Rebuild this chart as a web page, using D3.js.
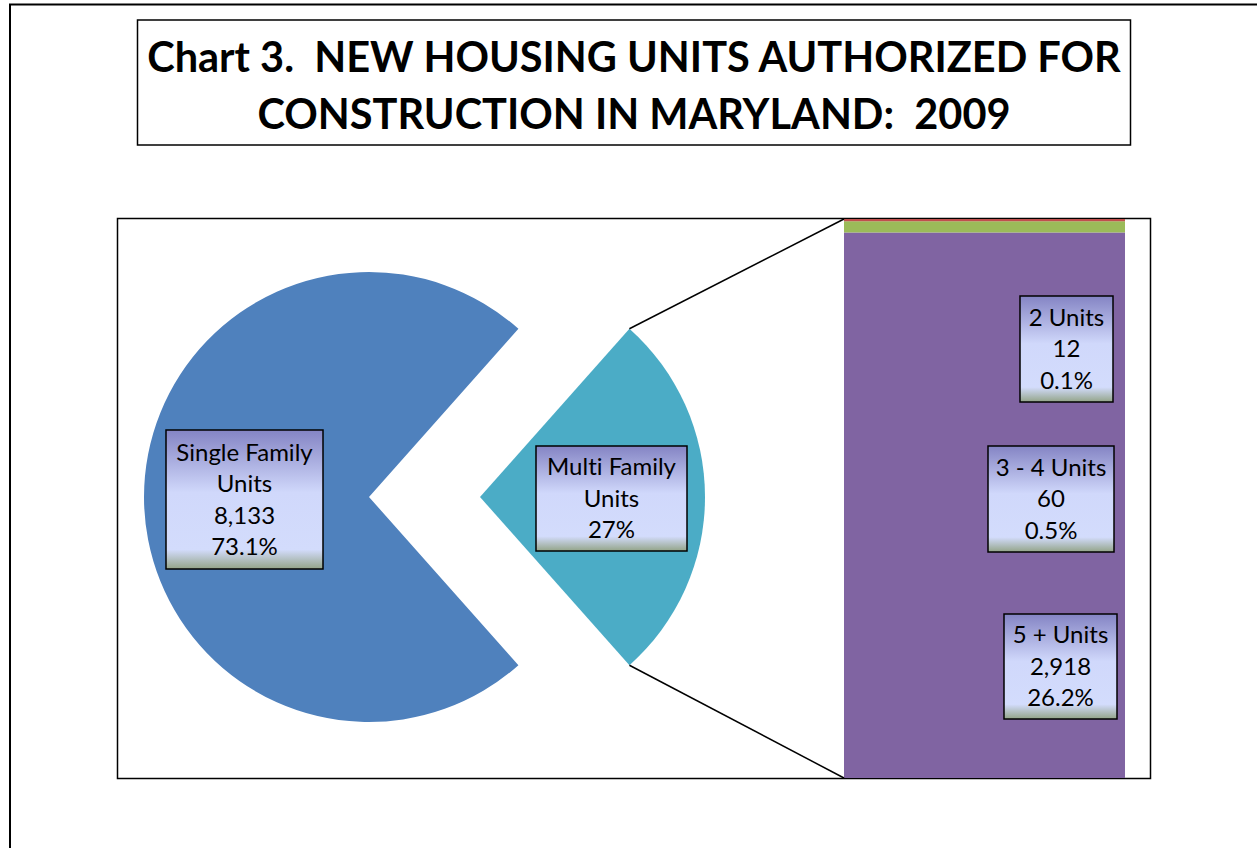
<!DOCTYPE html>
<html>
<head>
<meta charset="utf-8">
<script src="https://cdn.jsdelivr.net/npm/d3@7"></script>
<style>
  body { margin: 0; background: #fff; }
  svg { display: block; }
  text { font-family: Lato, "Open Sans", sans-serif; font-variant-ligatures: none; white-space: pre; }
</style>
</head>
<body>
<div id="chart"></div>
<script>
/* DATA */
const titleLines = ["Chart 3.  NEW HOUSING UNITS AUTHORIZED FOR", "CONSTRUCTION IN MARYLAND:  2009"];

const pieNames = ["Single Family Units", "Multi Family Units"];
const pieValues = [8133, 2990];
const pieLabels = [["Single Family", "Units", "8,133", "73.1%"], ["Multi Family", "Units", "27%"]];

// stacked bar, bottom to top
const barNames = ["5 + Units", "3 - 4 Units", "2 Units"];
const barValues = [2918, 60, 12];
const barLabels = [["5 + Units", "2,918", "26.2%"], ["3 - 4 Units", "60", "0.5%"], ["2 Units", "12", "0.1%"]];

/* CONSTANTS */
const width = 1257, height = 848;
const pieColors = ["#4F81BD", "#4BACC6"];
const barColors = ["#8064A2", "#9BBB59", "#C0504D"];
const radius = 225;

const svg = d3.select("#chart").append("svg")
  .attr("width", width)
  .attr("height", height);

// gradient for the label boxes
const grad = svg.append("defs").append("linearGradient")
  .attr("id", "lblGrad")
  .attr("x1", 0).attr("y1", 0).attr("x2", 0).attr("y2", 1);
[["0%", "#8484c4"], ["45%", "#d0d8fb"], ["86%", "#d3dcfc"], ["100%", "#93a488"]]
  .forEach(s => grad.append("stop").attr("offset", s[0]).attr("stop-color", s[1]));

// outer frame (runs off the right and bottom)
svg.append("rect")
  .attr("x", 10).attr("y", 4.5)
  .attr("width", 1300).attr("height", 900)
  .attr("fill", "none").attr("stroke", "#000").attr("stroke-width", 2);

// title box
svg.append("rect")
  .attr("x", 137.5).attr("y", 20)
  .attr("width", 993).attr("height", 125)
  .attr("fill", "#fff").attr("stroke", "#000").attr("stroke-width", 1.5);

svg.selectAll(".title")
  .data(titleLines)
  .join("text")
  .attr("class", "title")
  .attr("x", 634)
  .attr("y", (d, i) => 72 + i * 57)
  .attr("text-anchor", "middle")
  .attr("font-weight", "bold")
  .attr("font-size", 41.5)
  .text(d => d);

// plot area box
svg.append("rect")
  .attr("x", 117.5).attr("y", 218.5)
  .attr("width", 1033).attr("height", 560)
  .attr("fill", "#fff").attr("stroke", "#000").attr("stroke-width", 1.5);

/* PIE */
const total = d3.sum(pieValues);
const multiAngle = pieValues[1] / total * 2 * Math.PI;

const pie = d3.pie()
  .sort(null)
  .startAngle(Math.PI / 2 + multiAngle / 2)
  .endAngle(Math.PI / 2 + multiAngle / 2 + 2 * Math.PI);

const arcs = pie(pieValues);
const arc = d3.arc().innerRadius(0).outerRadius(radius);
const centers = [[369, 497], [480, 497]];

svg.selectAll(".slice")
  .data(arcs)
  .join("path")
  .attr("class", "slice")
  .attr("transform", (d, i) => `translate(${centers[i][0]},${centers[i][1]})`)
  .attr("d", arc)
  .attr("fill", (d, i) => pieColors[i]);

/* STACKED BAR */
const barLeft = 844, barRight = 1125;
const yScale = d3.scaleLinear()
  .domain([0, d3.sum(barValues)])
  .range([778, 219]);

const stackData = [Object.fromEntries(barNames.map((n, i) => [n, barValues[i]]))];
const series = d3.stack().keys(barNames)(stackData);

svg.selectAll(".seg")
  .data(series)
  .join("rect")
  .attr("class", "seg")
  .attr("x", barLeft)
  .attr("width", barRight - barLeft)
  .attr("y", d => yScale(d[0][1]))
  .attr("height", d => yScale(d[0][0]) - yScale(d[0][1]))
  .attr("fill", (d, i) => barColors[i]);

// connector lines from the multi family slice to the bar
const m = arcs[1];
const c = centers[1];
const upper = [c[0] + radius * Math.sin(m.startAngle), c[1] - radius * Math.cos(m.startAngle)];
const lower = [c[0] + radius * Math.sin(m.endAngle), c[1] - radius * Math.cos(m.endAngle)];
svg.append("line")
  .attr("x1", upper[0]).attr("y1", upper[1])
  .attr("x2", barLeft).attr("y2", yScale.range()[1])
  .attr("stroke", "#000").attr("stroke-width", 1.5);
svg.append("line")
  .attr("x1", lower[0]).attr("y1", lower[1])
  .attr("x2", barLeft).attr("y2", yScale.range()[0])
  .attr("stroke", "#000").attr("stroke-width", 1.5);

/* LABEL BOXES */
function labelBox(lines, box) {
  const g = svg.append("g");
  g.append("rect")
    .attr("x", box.x).attr("y", box.y)
    .attr("width", box.w).attr("height", box.h)
    .attr("fill", "url(#lblGrad)")
    .attr("stroke", "#000").attr("stroke-width", 1.5);
  const lh = 31.5;
  const top = box.y + box.h / 2 - (lines.length * lh) / 2;
  g.selectAll("text")
    .data(lines)
    .join("text")
    .attr("x", box.x + box.w / 2)
    .attr("y", (d, i) => top + i * lh + 24)
    .attr("text-anchor", "middle")
    .attr("font-size", 24)
    .attr("fill", "#000")
    .text(d => d);
}

const pieBoxes = [
  { x: 166, y: 430, w: 157, h: 139 },
  { x: 536, y: 446, w: 151, h: 105 }
];
pieLabels.forEach((l, i) => labelBox(l, pieBoxes[i]));

const barBoxes = [
  { x: 1004, y: 614, w: 113, h: 105 },
  { x: 988, y: 446, w: 126, h: 106 },
  { x: 1020, y: 296, w: 93, h: 106 }
];
barLabels.forEach((l, i) => labelBox(l, barBoxes[i]));
</script>
</body>
</html>
